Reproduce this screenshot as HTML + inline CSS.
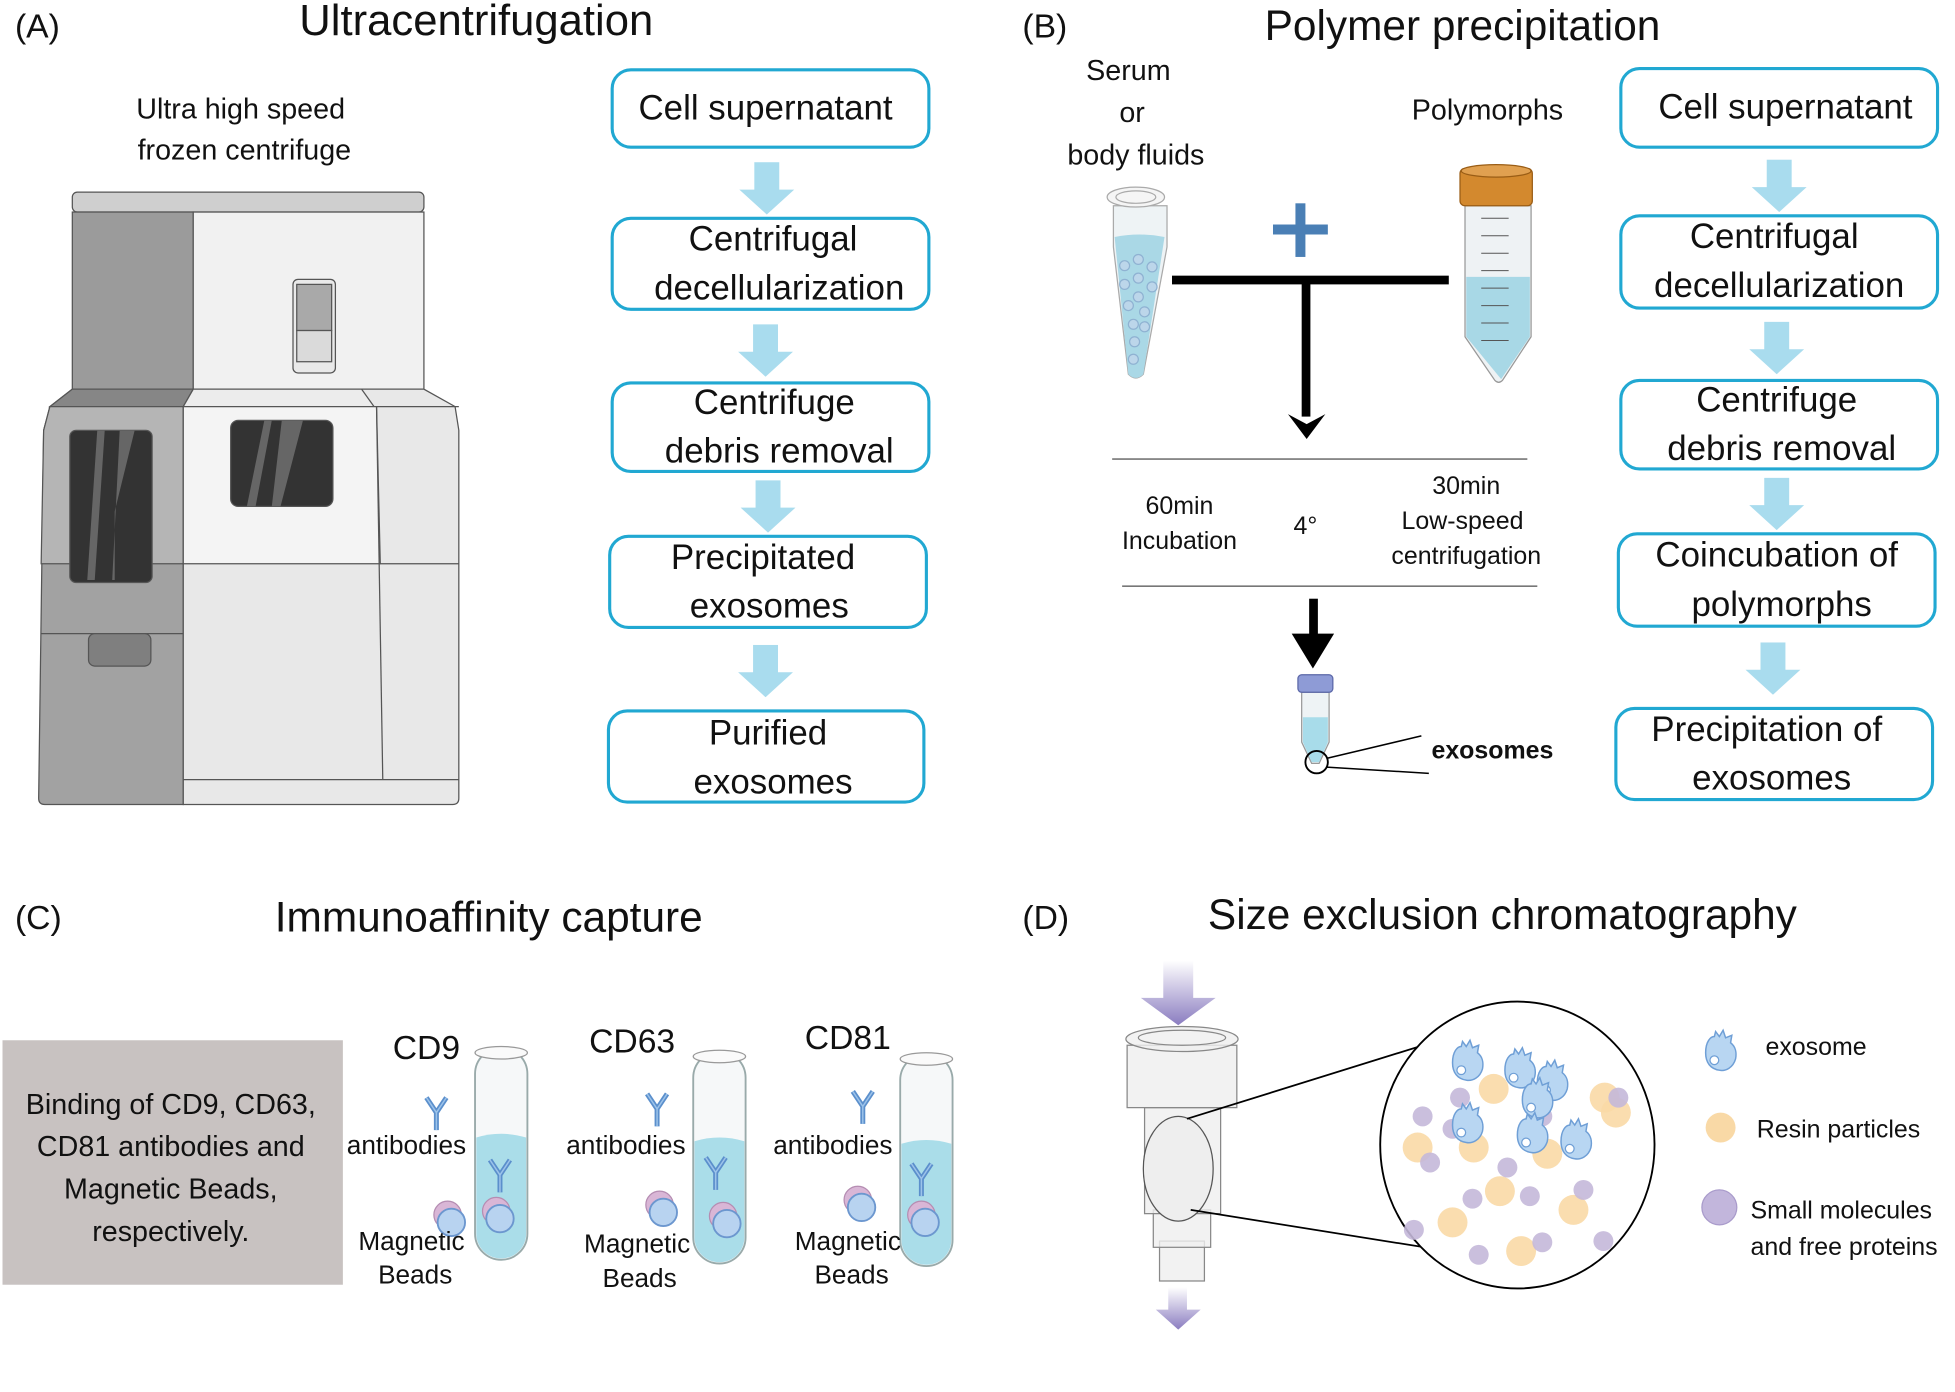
<!DOCTYPE html>
<html><head><meta charset="utf-8"><style>html,body{margin:0;padding:0;background:#fff}svg{display:block}text{font-family:"Liberation Sans",sans-serif;fill:#111}</style></head>
<body>
<svg width="1955" height="1392" viewBox="0 0 1568 1116" preserveAspectRatio="none" xmlns="http://www.w3.org/2000/svg">
<defs>
<symbol id="barr" viewBox="0 0 50 42"><path d="M15 0H35V22H47L25 42L3 22H15Z" fill="#a9dcee"/></symbol>
<g id="ab"><path d="M0 0 L8 12 L16 0 M8 12 V26" stroke="#5b8fcc" stroke-width="4" fill="none"/><path d="M0 0 L8 12 L16 0 M8 12 V26" stroke="#9cc3ea" stroke-width="1.2" fill="none"/></g>
<g id="bead"><circle cx="0" cy="0" r="11" fill="#d9b6d6" stroke="#b58db2"/><circle cx="3" cy="6" r="11" fill="#b8d3f0" stroke="#6c97cf" stroke-width="1.5"/></g>
<g id="exo"><path d="M-12 0 C-12 -9 -8 -13 -5 -13 L-4 -17 L-1 -13 L2 -18 L4 -12 L9 -14 L8 -8 C12 -5 13 0 12 5 C10 12 4 15 -1 14 C-8 13 -12 8 -12 0Z" fill="#b8d6f2" stroke="#6f9fd6" stroke-width="1.2"/><circle cx="-5" cy="6" r="3.5" fill="#fff" stroke="#6f9fd6"/></g>
<g id="tube"><rect x="-21" y="0" width="42" height="170" rx="21" fill="#f6f8f9" stroke="#9aa" stroke-width="1.5"/><path d="M-20 72 Q0 66 20 72 V149 A20 20 0 0 1 -20 149Z" fill="#aadde9"/><ellipse cx="0" cy="4" rx="21" ry="5" fill="#fafafa" stroke="#999"/></g>
</defs>

<!-- (A) -->
<text x="12" y="30" font-size="27">(A)</text>
<text x="382" y="28" font-size="35" text-anchor="middle">Ultracentrifugation</text>
<text x="193" y="95" font-size="23" text-anchor="middle">Ultra high speed</text>
<text x="196" y="128" font-size="23" text-anchor="middle">frozen centrifuge</text>
<g stroke="#555" stroke-width="1">
<rect x="58" y="154" width="282" height="16" rx="4" fill="#cfcfcf"/>
<rect x="58" y="170" width="97" height="142" fill="#9b9b9b"/>
<rect x="155" y="170" width="185" height="142" fill="#f1f1f1"/>
<path d="M58 312 L40 326 L35 345 L31 640 Q31 645 36 645 L147 645 L147 345 L155 312Z" fill="#a2a2a2"/>
<path d="M58 312 H155 L147 326 H40Z" fill="#868686"/>
<path d="M40 326 H147 V452 H33 L35 345Z" fill="#b5b5b5"/>
<path d="M147 326 L155 312 H340 L365 326 L368 345 L368 640 Q368 645 363 645 H147Z" fill="#e8e8e8"/>
<path d="M155 312 H290 L300 326 H147Z" fill="#ececec"/>
<path d="M147 326 H302 L305 452 H147Z" fill="#f4f4f4"/>
<line x1="302" y1="326" x2="307" y2="625"/><line x1="147" y1="625" x2="368" y2="625"/>
<line x1="305" y1="452" x2="368" y2="452"/><line x1="33" y1="508" x2="147" y2="508"/>
<line x1="302" y1="326" x2="368" y2="326"/>
<rect x="56" y="345" width="66" height="122" rx="5" fill="#333"/>
<rect x="185" y="337" width="82" height="69" rx="6" fill="#333"/>
<rect x="71" y="508" width="50" height="26" rx="5" fill="#7f7f7f"/>
<rect x="235" y="224" width="34" height="75" rx="4" fill="#e9e9e9"/>
<rect x="238" y="228" width="28" height="37" fill="#a9a9a9"/>
<rect x="238" y="265" width="28" height="25" fill="#dadada"/>
</g>
<path d="M70 465 L78 345 H84 L76 465Z M90 465 L96 345 H108 L92 410 V465Z" fill="#666"/>
<path d="M198 406 L212 337 H218 L205 406Z M218 406 L226 337 H243 L225 406Z" fill="#666"/>
<g fill="#fff" stroke="#21a8d2" stroke-width="2.5">
<rect x="491" y="56" width="254" height="62" rx="15"/>
<rect x="491" y="175" width="254" height="73" rx="15"/>
<rect x="491" y="307" width="254" height="71" rx="15"/>
<rect x="489" y="430" width="254" height="73" rx="15"/>
<rect x="488" y="570" width="253" height="73" rx="15"/>
</g>
<use href="#barr" x="590" y="130" width="50" height="42"/>
<use href="#barr" x="589" y="260" width="50" height="42"/>
<use href="#barr" x="591" y="385" width="50" height="42"/>
<use href="#barr" x="589" y="517" width="50" height="42"/>
<g font-size="28" text-anchor="middle">
<text x="614" y="96">Cell supernatant</text>
<text x="620" y="201">Centrifugal</text><text x="625" y="240">decellularization</text>
<text x="621" y="332">Centrifuge</text><text x="625" y="371">debris removal</text>
<text x="612" y="456">Precipitated</text><text x="617" y="495">exosomes</text>
<text x="616" y="597">Purified</text><text x="620" y="636">exosomes</text>
</g>

<!-- (B) -->
<text x="820" y="30" font-size="27">(B)</text>
<text x="1173" y="32" font-size="34" text-anchor="middle">Polymer precipitation</text>
<g font-size="23" text-anchor="middle">
<text x="905" y="64">Serum</text><text x="908" y="98">or</text><text x="911" y="132">body fluids</text>
<text x="1193" y="96">Polymorphs</text>
</g>
<path d="M893 165 H936 V198 L917 300 Q911 306 905 300 L893 198Z" fill="#eef3f5" stroke="#aaa"/>
<path d="M894 190 Q914 186 934 190 L917 300 Q911 306 905 300Z" fill="#aad8e6"/>
<ellipse cx="911" cy="158" rx="23" ry="8" fill="#f5f5f5" stroke="#aaa"/>
<ellipse cx="911" cy="158" rx="16" ry="5" fill="none" stroke="#aaa"/>
<g fill="#bcd6ea" stroke="#8fb2d2"><circle cx="902" cy="213" r="4"/><circle cx="913" cy="208" r="4"/><circle cx="924" cy="214" r="4"/><circle cx="913" cy="223" r="4"/><circle cx="902" cy="228" r="4"/><circle cx="924" cy="230" r="4"/><circle cx="913" cy="238" r="4"/><circle cx="905" cy="245" r="4"/><circle cx="918" cy="250" r="4"/><circle cx="909" cy="260" r="4"/><circle cx="918" cy="262" r="4"/><circle cx="910" cy="274" r="4"/><circle cx="909" cy="288" r="4"/></g>
<rect x="1021" y="180" width="44" height="8" fill="#4a7fb5"/><rect x="1039" y="163" width="8" height="43" fill="#4a7fb5"/>
<rect x="940" y="221" width="222" height="7" fill="#000"/>
<rect x="1044" y="224" width="7" height="110" fill="#000"/>
<path d="M1033 332 L1048 352 L1063 332 L1048 340Z" fill="#000"/>
<path d="M1175 165 H1228 V270 L1205 305 Q1202 308 1199 305 L1175 270Z" fill="#eef2f4" stroke="#999"/>
<path d="M1176 222 H1227 V270 L1204 304 L1176 270Z" fill="#a8d8e6"/>
<g stroke="#555" stroke-width="0.8"><line x1="1188" y1="175" x2="1210" y2="175"/><line x1="1188" y1="189" x2="1210" y2="189"/><line x1="1188" y1="203" x2="1210" y2="203"/><line x1="1188" y1="217" x2="1210" y2="217"/><line x1="1188" y1="231" x2="1210" y2="231"/><line x1="1188" y1="245" x2="1210" y2="245"/><line x1="1188" y1="259" x2="1210" y2="259"/><line x1="1188" y1="273" x2="1210" y2="273"/></g>
<rect x="1171" y="135" width="58" height="30" rx="4" fill="#d3892e" stroke="#9a5d15"/>
<ellipse cx="1200" cy="137" rx="28" ry="5" fill="#e0a050" stroke="#9a5d15"/>
<line x1="892" y1="368" x2="1225" y2="368" stroke="#777" stroke-width="1.3"/>
<line x1="900" y1="470" x2="1233" y2="470" stroke="#777" stroke-width="1.3"/>
<g font-size="20" text-anchor="middle">
<text x="946" y="412">60min</text><text x="946" y="440">Incubation</text>
<text x="1047" y="428">4°</text>
<text x="1176" y="396">30min</text><text x="1173" y="424">Low-speed</text><text x="1176" y="452">centrifugation</text>
</g>
<rect x="1050" y="480" width="7" height="32" fill="#000"/>
<path d="M1036 508 L1053 536 L1070 508Z" fill="#000"/>
<path d="M1044 555 H1066 V595 L1058 612 H1052 L1044 595Z" fill="#eef3f5" stroke="#999"/>
<path d="M1045 575 H1065 V595 L1058 611 H1052 L1045 595Z" fill="#a8dcea"/>
<rect x="1041" y="541" width="28" height="14" rx="3" fill="#8e9bd6" stroke="#5b67a8"/>
<circle cx="1056" cy="611" r="9" fill="none" stroke="#000" stroke-width="1.5"/>
<path d="M1064 608 L1140 590 M1064 615 L1146 620" stroke="#000" stroke-width="1.2"/>
<text x="1197" y="608" font-size="20" font-weight="bold" text-anchor="middle">exosomes</text>
<g fill="#fff" stroke="#21a8d2" stroke-width="2.5">
<rect x="1300" y="55" width="254" height="63" rx="15"/>
<rect x="1300" y="173" width="254" height="74" rx="15"/>
<rect x="1300" y="305" width="254" height="71" rx="15"/>
<rect x="1298" y="428" width="254" height="74" rx="15"/>
<rect x="1296" y="568" width="254" height="73" rx="15"/>
</g>
<use href="#barr" x="1402" y="128" width="50" height="42"/>
<use href="#barr" x="1400" y="258" width="50" height="42"/>
<use href="#barr" x="1400" y="383" width="50" height="42"/>
<use href="#barr" x="1397" y="515" width="50" height="42"/>
<g font-size="28" text-anchor="middle">
<text x="1432" y="95">Cell supernatant</text>
<text x="1423" y="199">Centrifugal</text><text x="1427" y="238">decellularization</text>
<text x="1425" y="330">Centrifuge</text><text x="1429" y="369">debris removal</text>
<text x="1425" y="454">Coincubation of</text><text x="1429" y="494">polymorphs</text>
<text x="1417" y="594">Precipitation of</text><text x="1421" y="633">exosomes</text>
</g>

<!-- (C) -->
<text x="12" y="745" font-size="27">(C)</text>
<text x="392" y="747" font-size="34" text-anchor="middle">Immunoaffinity capture</text>
<rect x="2" y="834" width="273" height="196" fill="#c8c2c1"/>
<g font-size="23" text-anchor="middle">
<text x="137" y="893">Binding of CD9, CD63,</text><text x="137" y="927">CD81 antibodies and</text><text x="137" y="961">Magnetic Beads,</text><text x="137" y="995">respectively.</text>
</g>
<use href="#tube" x="402" y="840"/><use href="#tube" x="577" y="843"/><use href="#tube" x="743" y="845"/>
<use href="#ab" x="342" y="880"/><use href="#ab" x="519" y="877"/><use href="#ab" x="684" y="875"/>
<use href="#ab" x="393" y="930"/><use href="#ab" x="566" y="928"/><use href="#ab" x="731" y="933"/>
<use href="#bead" x="359" y="974"/><use href="#bead" x="529" y="966"/><use href="#bead" x="688" y="962"/>
<use href="#bead" x="398" y="971"/><use href="#bead" x="580" y="975"/><use href="#bead" x="739" y="974"/>
<g font-size="27" text-anchor="middle"><text x="342" y="849">CD9</text><text x="507" y="844">CD63</text><text x="680" y="841">CD81</text></g>
<g font-size="21" text-anchor="middle">
<text x="326" y="925">antibodies</text><text x="502" y="925">antibodies</text><text x="668" y="925">antibodies</text>
<text x="330" y="1002">Magnetic</text><text x="333" y="1029">Beads</text>
<text x="511" y="1004">Magnetic</text><text x="513" y="1032">Beads</text>
<text x="680" y="1002">Magnetic</text><text x="683" y="1029">Beads</text>
</g>

<!-- (D) -->
<text x="820" y="745" font-size="27">(D)</text>
<text x="1205" y="745" font-size="34" text-anchor="middle">Size exclusion chromatography</text>
<defs><linearGradient id="pg" x1="0" y1="0" x2="0" y2="1"><stop offset="0" stop-color="#fff"/><stop offset="1" stop-color="#8a7cc0"/></linearGradient></defs>
<path d="M933 770 H957 V800 H975 L945 822 L915 800 H933Z" fill="url(#pg)"/>
<path d="M937 1032 H952 V1050 H963 L945 1066 L927 1050 H937Z" fill="url(#pg)"/>
<g fill="#efefef" fill-opacity="0.8" stroke="#888">
<rect x="930" y="995" width="36" height="32"/>
<rect x="925" y="970" width="46" height="30"/>
<rect x="918" y="888" width="61" height="85"/>
<rect x="904" y="838" width="88" height="50"/>
<ellipse cx="948" cy="833" rx="45" ry="10"/>
</g>
<ellipse cx="948" cy="832" rx="35" ry="6" fill="none" stroke="#888"/>
<ellipse cx="945" cy="937" rx="28" ry="42" fill="#eee" stroke="#555"/>
<path d="M952 897 L1180 826 M955 970 L1180 1006" stroke="#000" stroke-width="1.4"/>
<ellipse cx="1217" cy="918" rx="110" ry="115" fill="#fff" stroke="#000" stroke-width="1.5"/>
<g fill="#f9d9a6" fill-opacity="0.9"><circle cx="1198" cy="873" r="12"/><circle cx="1287" cy="880" r="12"/><circle cx="1137" cy="920" r="12"/><circle cx="1182" cy="920" r="12"/><circle cx="1241" cy="925" r="12"/><circle cx="1203" cy="955" r="12"/><circle cx="1262" cy="970" r="12"/><circle cx="1165" cy="980" r="12"/><circle cx="1220" cy="1003" r="12"/><circle cx="1296" cy="892" r="12"/></g>
<g fill="#c4b8d9" fill-opacity="0.9"><circle cx="1171" cy="880" r="8"/><circle cx="1141" cy="895" r="8"/><circle cx="1237" cy="895" r="8"/><circle cx="1147" cy="932" r="8"/><circle cx="1209" cy="936" r="8"/><circle cx="1270" cy="954" r="8"/><circle cx="1227" cy="959" r="8"/><circle cx="1181" cy="961" r="8"/><circle cx="1134" cy="986" r="8"/><circle cx="1237" cy="996" r="8"/><circle cx="1186" cy="1006" r="8"/><circle cx="1286" cy="995" r="8"/><circle cx="1298" cy="880" r="8"/><circle cx="1165" cy="905" r="8"/></g>
<use href="#exo" x="1177" y="852"/><use href="#exo" x="1219" y="858"/><use href="#exo" x="1245" y="868"/><use href="#exo" x="1233" y="882"/><use href="#exo" x="1177" y="902"/><use href="#exo" x="1229" y="910"/><use href="#exo" x="1264" y="915"/>
<use href="#exo" x="1380" y="844"/>
<circle cx="1380" cy="904" r="12" fill="#f9d9a6"/>
<circle cx="1379" cy="968" r="14" fill="#c2b6dc" stroke="#a99bcb"/>
<g font-size="20">
<text x="1416" y="846">exosome</text>
<text x="1409" y="912">Resin particles</text>
<text x="1404" y="977">Small molecules</text><text x="1404" y="1006">and free proteins</text>
</g>
</svg>
</body></html>
